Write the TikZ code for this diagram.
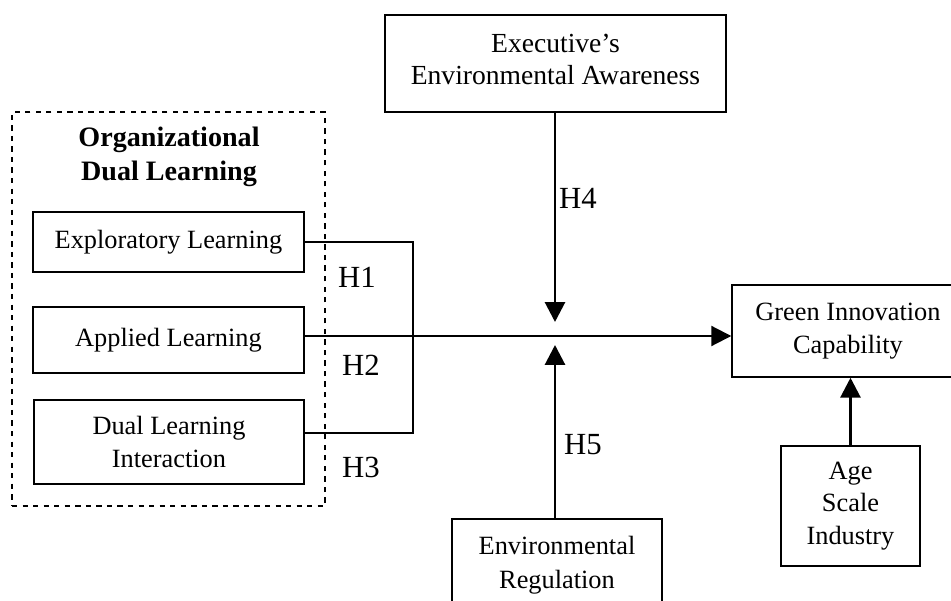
\documentclass[tikz,border=0pt]{standalone}
\usepackage{fontspec}
\setmainfont{Liberation Serif}
\usetikzlibrary{positioning,arrows.meta}

\tikzset{
  varbox/.style = {draw, line width=0.85pt, align=center, inner sep=0pt,
                   font=\fontsize{15}{18.5}\selectfont},
  hlabel/.style = {font=\fontsize{17.5}{20}\selectfont},
  arr/.style    = {line width=1.7pt, -{Triangle[length=4mm,width=4mm]}},
  link/.style   = {line width=0.7pt}
}

\begin{document}
\begin{tikzpicture}[x=0.02cm, y=-0.02cm]
 \useasboundingbox (0,0) rectangle (951,601);

 % left group
 \node[draw, dashed, line width=0.7pt, minimum width=6.26cm, minimum height=7.88cm, name=group] at (168.5,309) {};
 \node[align=center, font=\fontsize{16}{19}\selectfont\bfseries, name=title] at (169,157) {Organizational\\Dual Learning};
 \node[varbox, minimum width=5.42cm, minimum height=1.2cm,  name=Expl] at (168.5,242) {Exploratory Learning};
 \node[varbox, minimum width=5.42cm, minimum height=1.32cm, name=Appl] at (168.5,340) {Applied Learning};
 \node[varbox, minimum width=5.4cm,  minimum height=1.68cm, name=Dual] at (169,442)   {Dual Learning\\Interaction};

 % moderators, outcome, controls
 \node[varbox, font=\fontsize{15.7}{18}\selectfont, minimum width=6.82cm, minimum height=1.94cm, name=Exec] at (555.5,63.5) {Executive’s\\Environmental Awareness\\[-13pt]};
 \node[varbox, font=\fontsize{15}{19.5}\selectfont, minimum width=4.2cm,  minimum height=1.84cm, name=Reg]  at (557,565)    {Environmental\\Regulation};
 \node[varbox, minimum width=4.64cm, minimum height=1.84cm, name=GIC] at (848,331)   {Green Innovation\\Capability};
 \node[varbox, minimum width=2.78cm, minimum height=2.4cm,  name=Ctrl] at (850.5,506) {Age\\Scale\\Industry};

 \coordinate (join) at (413,336);
 \coordinate (low)  at (413,433);
 \coordinate (hit4) at (555,322);
 \coordinate (hit5) at (555,345);

 % bracket and main path
 \draw[link] (Expl.east) -| (low) -- (Dual.east |- low);
 \draw[arr, line width=1.2pt] (Appl.east |- join) -- (GIC.west |- join);
 \draw[arr]  (Exec.south -| hit4) -- (hit4);
 \draw[arr]  (Reg.north -| hit5) -- (hit5);
 \draw[arr]  (Ctrl.north) -- (GIC.south -| Ctrl.north);

 \node[hlabel, name=H1] at (357,277) {H1};
 \node[hlabel, name=H2] at (361,365) {H2};
 \node[hlabel, name=H3] at (361,467) {H3};
 \node[hlabel, name=H4] at (578,198) {H4};
 \node[hlabel, name=H5] at (583,445) {H5};
\end{tikzpicture}
\end{document}
